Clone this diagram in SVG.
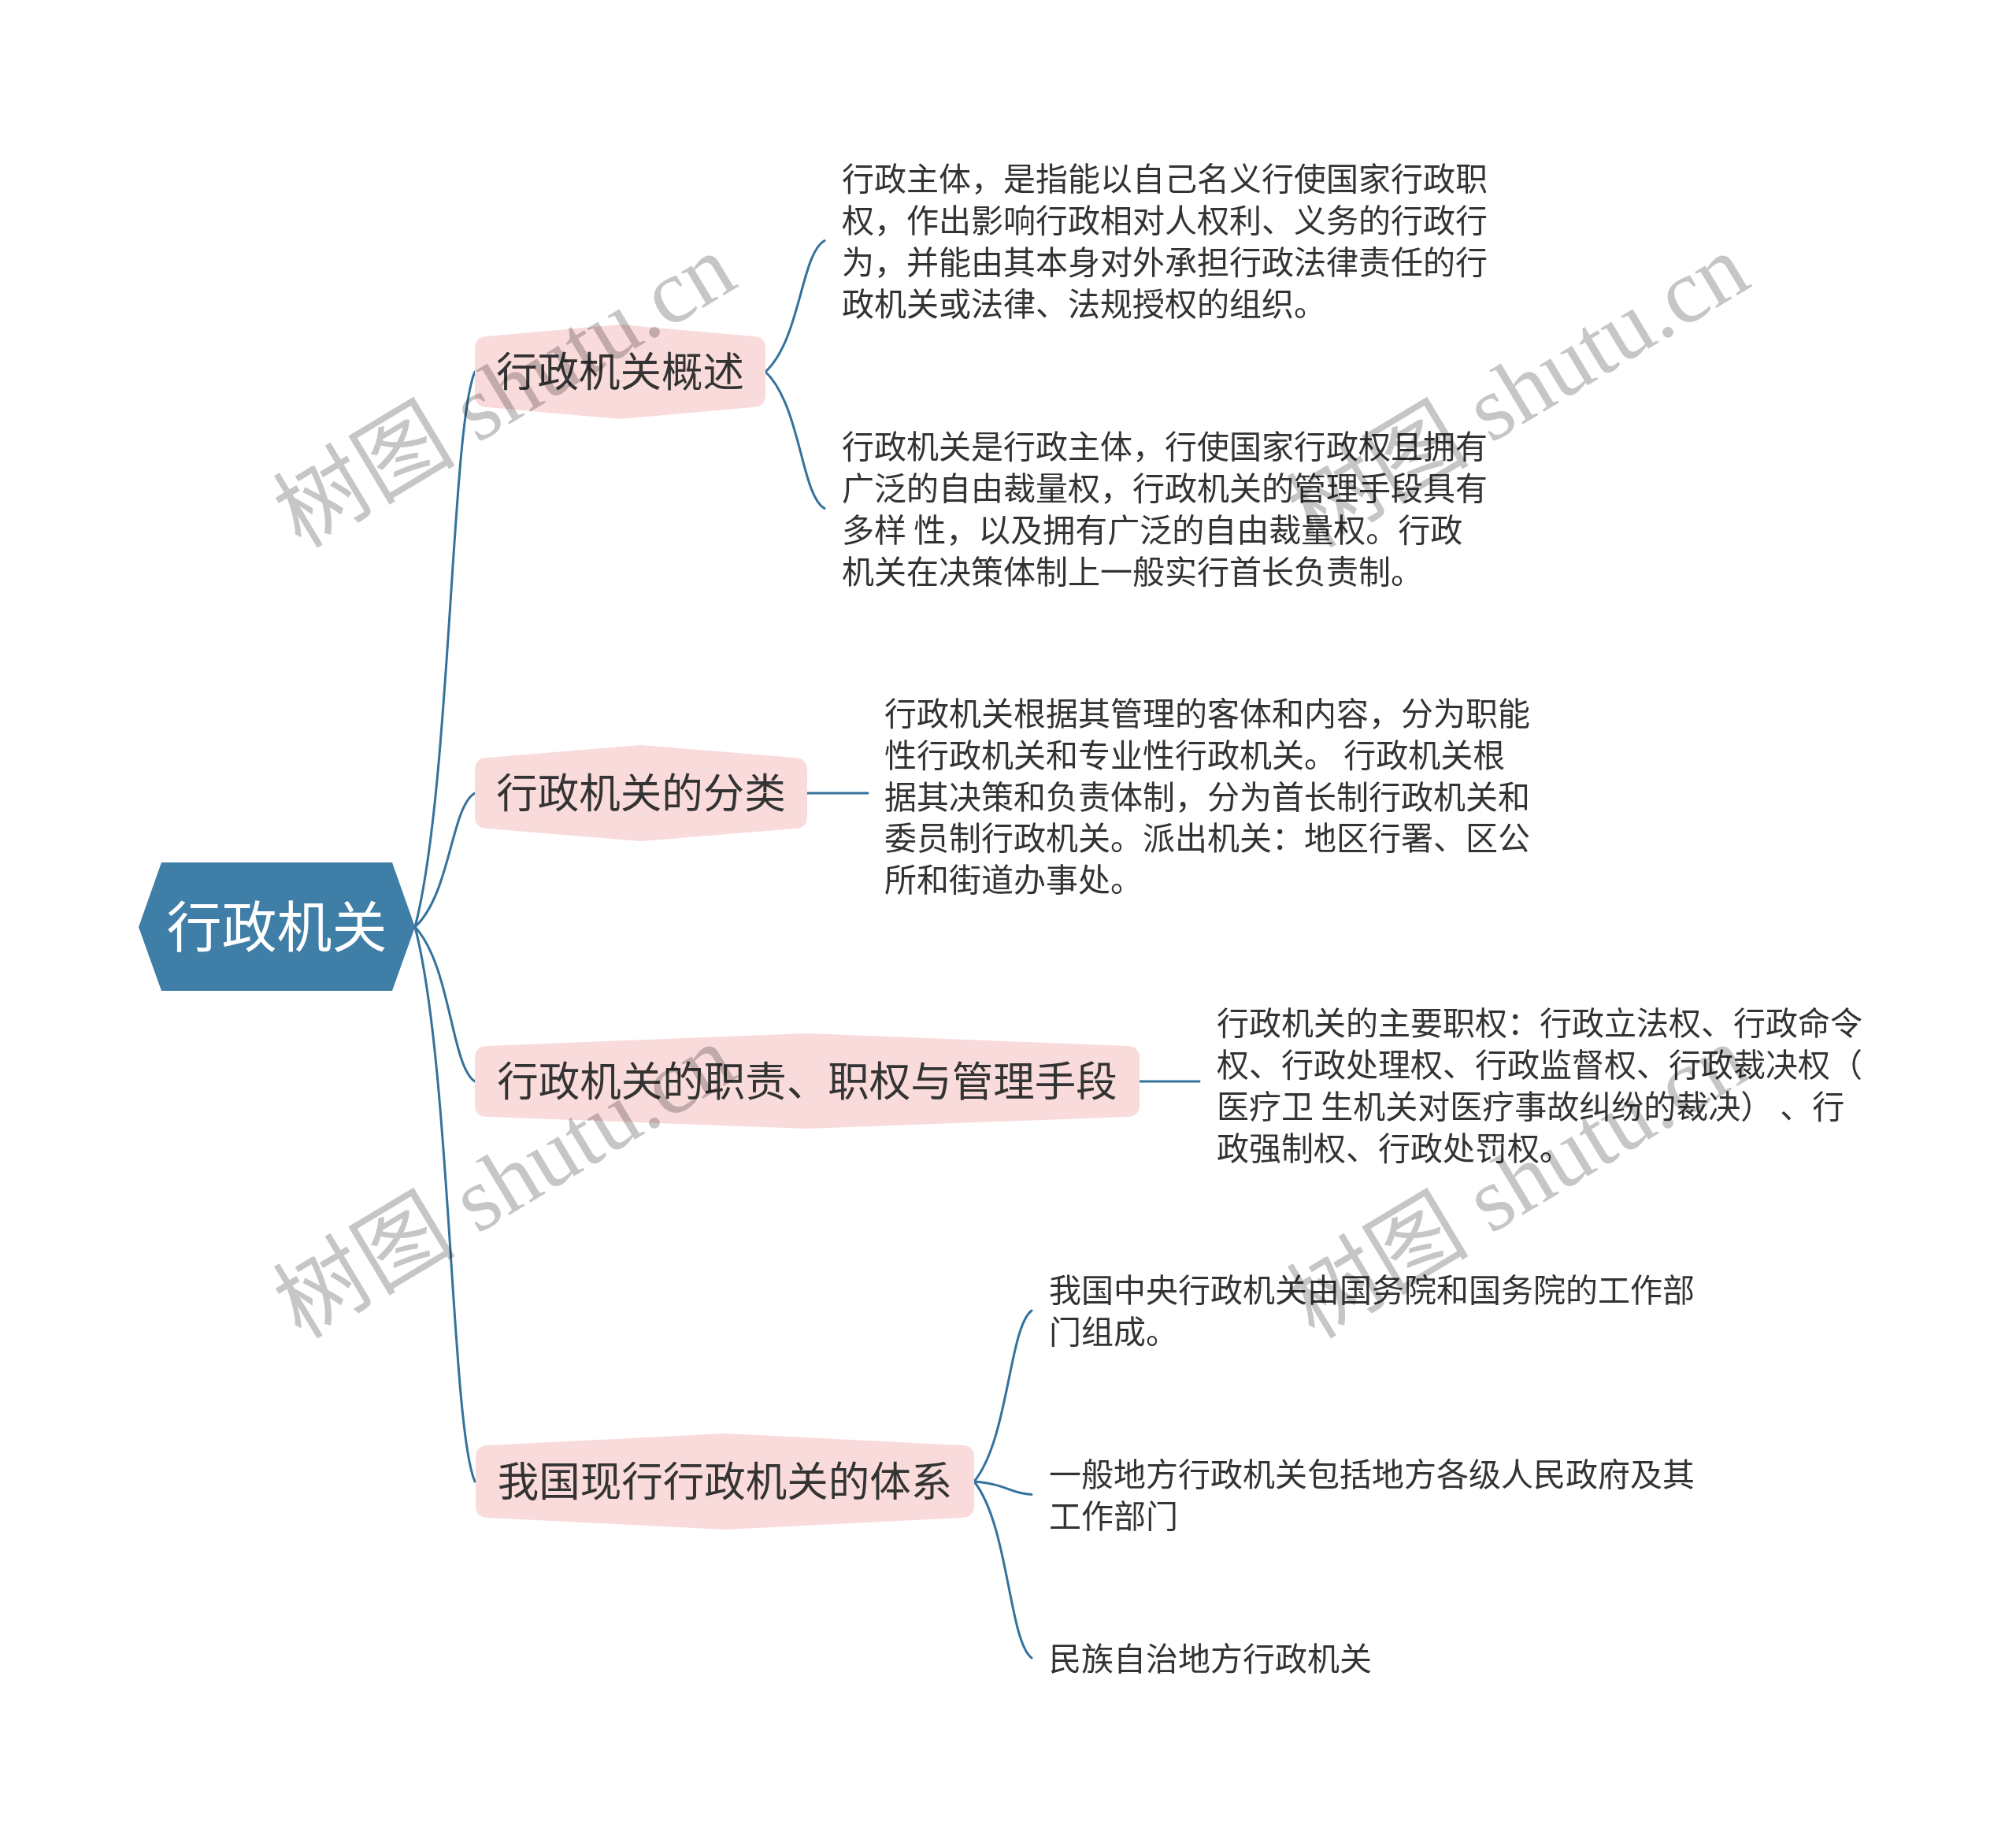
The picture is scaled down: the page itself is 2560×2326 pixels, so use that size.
<svg xmlns="http://www.w3.org/2000/svg" width="2560" height="2326" viewBox="0 0 2560 2326">
<style>
.bg{fill:#ffffff}
.root{fill:#3f7ea6}
.rootText{font-family:"Noto Sans CJK SC","Noto Sans",sans-serif;font-size:70px;fill:#ffffff;text-anchor:middle}
.branch{fill:#fadbdb}
.branchText{font-family:"Noto Sans CJK SC","Noto Sans",sans-serif;font-size:52.5px;fill:#333333;text-anchor:middle}
.leafText{font-family:"Noto Sans CJK SC","Noto Sans",sans-serif;font-size:41px;fill:#333333}
.conn{fill:none;stroke:#34729c;stroke-width:3;stroke-linecap:round}
.wm{font-family:"Liberation Serif","Noto Sans CJK SC",serif;font-size:116px;fill:#c6c6c6;text-anchor:middle;mix-blend-mode:multiply}
</style>
<rect class="bg" x="0" y="0" width="2560" height="2326"/>
<g id="connectors">
<path class="conn" d="M 527 1177 C 572.6 1001, 572.6 542.5, 603 472"/>
<path class="conn" d="M 527 1177 C 572.6 1134.5, 572.6 1024, 603 1007"/>
<path class="conn" d="M 527 1177 C 572.6 1226, 572.6 1353.4, 603 1373"/>
<path class="conn" d="M 527 1177 C 572.6 1353, 572.6 1810.6, 603 1881"/>
<path class="conn" d="M 972 472 C 1017 430, 1017 322, 1047 305.5"/>
<path class="conn" d="M 972 472 C 1017 515, 1017 628, 1047 645.5"/>
<path class="conn" d="M 1025 1007 L 1102 1007"/>
<path class="conn" d="M 1447 1373 L 1523 1373"/>
<path class="conn" d="M 1237 1881 C 1281 1827, 1281 1686, 1310 1664"/>
<path class="conn" d="M 1237 1881 C 1281 1885, 1281 1896, 1310 1897.5"/>
<path class="conn" d="M 1237 1881 C 1281 1937, 1281 2083, 1310 2105"/>
</g>
<g id="root">
<polygon class="root" points="176,1177 205,1095 498,1095 527,1177 498,1258 205,1258"/>
<text class="rootText" x="351.5" y="1203">行政机关</text>
</g>
<g id="b1">
<path class="branch" d="M 619 427 L 787.5 412 L 956 427 Q 972 427 972 443 L 972 501 Q 972 517 956 517 L 787.5 532 L 619 517 Q 603 517 603 501 L 603 443 Q 603 427 619 427 Z"/>
<text class="branchText" x="787.5" y="491">行政机关概述</text>
</g>
<g id="b2">
<path class="branch" d="M 619 962 L 814 946 L 1009 962 Q 1025 962 1025 978 L 1025 1036 Q 1025 1052 1009 1052 L 814 1068 L 619 1052 Q 603 1052 603 1036 L 603 978 Q 603 962 619 962 Z"/>
<text class="branchText" x="814" y="1026">行政机关的分类</text>
</g>
<g id="b3">
<path class="branch" d="M 619 1328 L 1025 1312 L 1431 1328 Q 1447 1328 1447 1344 L 1447 1402 Q 1447 1418 1431 1418 L 1025 1433 L 619 1418 Q 603 1418 603 1402 L 603 1344 Q 603 1328 619 1328 Z"/>
<text class="branchText" x="1025" y="1392">行政机关的职责、职权与管理手段</text>
</g>
<g id="b4">
<path class="branch" d="M 620 1835 L 920.5 1820 L 1221 1835 Q 1237 1835 1237 1851 L 1237 1911 Q 1237 1927 1221 1927 L 920.5 1942 L 620 1927 Q 604 1927 604 1911 L 604 1851 Q 604 1835 620 1835 Z"/>
<text class="branchText" x="920.5" y="1900">我国现行行政机关的体系</text>
</g>
<g id="leaf1a">
<text class="leafText" x="1069" y="241.5">行政主体，是指能以自己名义行使国家行政职</text>
<text class="leafText" x="1069" y="294.5">权，作出影响行政相对人权利、义务的行政行</text>
<text class="leafText" x="1069" y="347.5">为，并能由其本身对外承担行政法律责任的行</text>
<text class="leafText" x="1069" y="400.5">政机关或法律、法规授权的组织。</text>
</g>
<g id="leaf1b">
<text class="leafText" x="1069" y="581.5">行政机关是行政主体，行使国家行政权且拥有</text>
<text class="leafText" x="1069" y="634.5">广泛的自由裁量权，行政机关的管理手段具有</text>
<text class="leafText" x="1069" y="687.5">多样 性，以及拥有广泛的自由裁量权。行政</text>
<text class="leafText" x="1069" y="740.5">机关在决策体制上一般实行首长负责制。</text>
</g>
<g id="leaf2">
<text class="leafText" x="1123" y="921">行政机关根据其管理的客体和内容，分为职能</text>
<text class="leafText" x="1123" y="973.7">性行政机关和专业性行政机关。 行政机关根</text>
<text class="leafText" x="1123" y="1026.5">据其决策和负责体制，分为首长制行政机关和</text>
<text class="leafText" x="1123" y="1079.3">委员制行政机关。派出机关：地区行署、区公</text>
<text class="leafText" x="1123" y="1132.1">所和街道办事处。</text>
</g>
<g id="leaf3">
<text class="leafText" x="1545" y="1313.5">行政机关的主要职权：行政立法权、行政命令</text>
<text class="leafText" x="1545" y="1366.5">权、行政处理权、行政监督权、行政裁决权（</text>
<text class="leafText" x="1545" y="1419.5" xml:space="preserve">医疗卫 生机关对医疗事故纠纷的裁决） 、行</text>
<text class="leafText" x="1545" y="1472.5">政强制权、行政处罚权。</text>
</g>
<g id="leaf4a">
<text class="leafText" x="1332" y="1653">我国中央行政机关由国务院和国务院的工作部</text>
<text class="leafText" x="1332" y="1706">门组成。</text>
</g>
<g id="leaf4b">
<text class="leafText" x="1332" y="1887">一般地方行政机关包括地方各级人民政府及其</text>
<text class="leafText" x="1332" y="1940">工作部门</text>
</g>
<g id="leaf4c">
<text class="leafText" x="1332" y="2120.5">民族自治地方行政机关</text>
</g>
<g id="watermarks">
<text class="wm" transform="translate(661 530) rotate(-31)">树图 shutu.cn</text>
<text class="wm" transform="translate(1948 530) rotate(-31)">树图 shutu.cn</text>
<text class="wm" transform="translate(661 1534) rotate(-31)">树图 shutu.cn</text>
<text class="wm" transform="translate(1948 1534) rotate(-31)">树图 shutu.cn</text>
</g>
</svg>
